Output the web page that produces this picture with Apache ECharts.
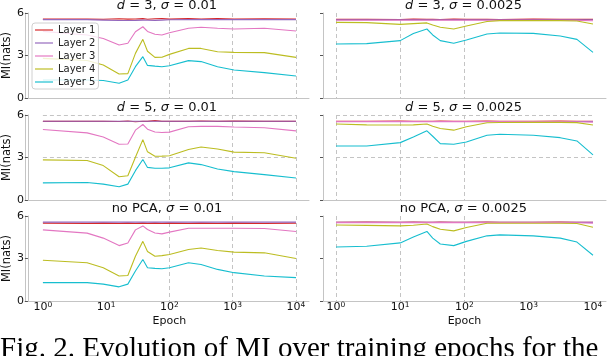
<!DOCTYPE html>
<html><head><meta charset="utf-8">
<script src="https://cdn.jsdelivr.net/npm/echarts@6/dist/echarts.min.js"></script>
<style>html,body{margin:0;padding:0;background:#fff;overflow:hidden}#c{width:608px;height:356px}</style>
</head><body><div id="c"></div>
<script>
// ---------------- data ----------------
const layerNames = ['Layer 1', 'Layer 2', 'Layer 3', 'Layer 4', 'Layer 5'];
const layerColors = ['#d62728', '#9467bd', '#e377c2', '#bcbd22', '#17becf'];
const panelTitles = [
  '{i|d} = 3, {i|σ} = 0.01', '{i|d} = 3, {i|σ} = 0.0025',
  '{i|d} = 5, {i|σ} = 0.01', '{i|d} = 5, {i|σ} = 0.0025',
  'no PCA, {i|σ} = 0.01', 'no PCA, {i|σ} = 0.0025'
];
const yTicks = [0, 3, 6];
const xTickValues = [1, 10, 100, 1000, 10000];
const captionText = 'Fig. 2. Evolution of MI over training epochs for the';

// epochs (x)
const epochsLeft = [1, 5, 9, 16, 22, 29, 38, 45, 59, 76, 100, 200, 316, 575, 1050, 3160, 10000];
const epochsRight = [1, 3, 10, 16, 26, 32, 42, 68, 107, 224, 355, 1175, 3090, 5623, 10000];

// d = 3, sigma = 0.01
const A1 = [5.57, 5.58, 5.56, 5.59, 5.57, 5.58, 5.6, 5.56, 5.59, 5.6, 5.57, 5.6, 5.58, 5.6, 5.57, 5.59, 5.58];
const A2 = [5.53, 5.53, 5.5, 5.47, 5.47, 5.48, 5.5, 5.49, 5.48, 5.5, 5.52, 5.53, 5.53, 5.53, 5.53, 5.53, 5.53];
const A3 = [4.7, 4.45, 4.2, 3.74, 3.86, 4.68, 5.03, 4.7, 4.5, 4.45, 4.6, 4.92, 4.99, 4.92, 4.87, 4.92, 4.73];
const A4 = [2.8, 2.65, 2.33, 1.69, 1.72, 3.15, 4.14, 3.3, 2.87, 2.88, 3.08, 3.5, 3.5, 3.27, 3.22, 3.2, 2.87];
const A5 = [1.27, 1.27, 1.23, 1.04, 1.27, 2.21, 2.92, 2.3, 2.25, 2.21, 2.28, 2.64, 2.57, 2.21, 1.98, 1.79, 1.55];
// d = 3, sigma = 0.0025
const B1 = [5.55, 5.56, 5.54, 5.57, 5.55, 5.56, 5.54, 5.57, 5.55, 5.56, 5.54, 5.57, 5.55, 5.56, 5.55];
const B2 = [5.52, 5.52, 5.52, 5.52, 5.52, 5.52, 5.52, 5.52, 5.52, 5.52, 5.52, 5.52, 5.52, 5.52, 5.52];
const B3 = [5.49, 5.49, 5.49, 5.49, 5.49, 5.49, 5.49, 5.49, 5.49, 5.49, 5.49, 5.49, 5.49, 5.48, 5.45];
const B4 = [5.34, 5.32, 5.2, 5.25, 5.3, 5.15, 4.99, 4.87, 5.08, 5.4, 5.46, 5.46, 5.46, 5.44, 5.22];
const B5 = [3.81, 3.84, 4.05, 4.56, 4.87, 4.45, 4.05, 3.86, 4.1, 4.52, 4.59, 4.56, 4.38, 4.14, 3.22];
// d = 5, sigma = 0.01
const C1 = [5.55, 5.56, 5.55, 5.54, 5.58, 5.52, 5.56, 5.55, 5.6, 5.55, 5.56, 5.55, 5.58, 5.55, 5.57, 5.55, 5.55];
const C2 = [5.56, 5.56, 5.56, 5.56, 5.56, 5.56, 5.56, 5.56, 5.56, 5.56, 5.56, 5.56, 5.56, 5.56, 5.56, 5.56, 5.56];
const C3 = [4.98, 4.74, 4.45, 3.93, 3.95, 4.93, 5.33, 5.0, 4.8, 4.76, 4.79, 5.17, 5.2, 5.2, 5.15, 5.1, 4.88];
const C4 = [2.83, 2.79, 2.43, 1.64, 1.71, 3.02, 4.26, 3.4, 3.09, 3.1, 3.12, 3.57, 3.74, 3.6, 3.38, 3.33, 2.95];
const C5 = [1.21, 1.24, 1.12, 0.93, 1.12, 2.07, 2.86, 2.3, 2.24, 2.24, 2.27, 2.62, 2.5, 2.19, 2.0, 1.79, 1.55];
// d = 5, sigma = 0.0025
const D1 = [5.56, 5.55, 5.57, 5.55, 5.56, 5.55, 5.57, 5.56, 5.55, 5.57, 5.56, 5.55, 5.57, 5.56, 5.55];
const D2 = [5.54, 5.54, 5.54, 5.54, 5.54, 5.54, 5.54, 5.54, 5.54, 5.54, 5.54, 5.54, 5.54, 5.54, 5.54];
const D3 = [5.53, 5.53, 5.53, 5.53, 5.53, 5.53, 5.53, 5.53, 5.53, 5.53, 5.53, 5.53, 5.53, 5.52, 5.5];
const D4 = [5.36, 5.3, 5.29, 5.3, 5.36, 5.2, 5.05, 4.93, 5.17, 5.45, 5.47, 5.48, 5.48, 5.46, 5.29];
const D5 = [3.81, 3.81, 4.05, 4.45, 4.88, 4.5, 3.98, 3.93, 4.1, 4.57, 4.64, 4.57, 4.4, 4.17, 3.19];
// no PCA, sigma = 0.01
const E1 = [5.5, 5.47, 5.5, 5.47, 5.5, 5.47, 5.5, 5.47, 5.5, 5.47, 5.5, 5.47, 5.5, 5.47, 5.5, 5.47, 5.5];
const E2 = [5.57, 5.57, 5.57, 5.57, 5.57, 5.57, 5.57, 5.57, 5.57, 5.57, 5.57, 5.57, 5.57, 5.57, 5.57, 5.57, 5.57];
const E3 = [5.02, 4.79, 4.44, 3.91, 4.09, 5.02, 5.3, 5.05, 4.8, 4.74, 4.86, 5.14, 5.14, 5.14, 5.14, 5.12, 4.91];
const E4 = [2.88, 2.7, 2.35, 1.77, 1.8, 3.16, 4.21, 3.5, 3.16, 3.2, 3.28, 3.63, 3.74, 3.56, 3.45, 3.4, 3.0];
const E5 = [1.3, 1.3, 1.19, 1.0, 1.19, 2.12, 2.93, 2.35, 2.3, 2.28, 2.35, 2.7, 2.58, 2.23, 2.0, 1.77, 1.65];
// no PCA, sigma = 0.0025
const F1 = [5.56, 5.57, 5.55, 5.57, 5.56, 5.55, 5.57, 5.56, 5.55, 5.57, 5.56, 5.55, 5.57, 5.56, 5.56];
const F2 = [5.55, 5.55, 5.55, 5.55, 5.55, 5.55, 5.55, 5.55, 5.55, 5.55, 5.55, 5.55, 5.55, 5.55, 5.55];
const F3 = [5.53, 5.53, 5.53, 5.53, 5.53, 5.53, 5.53, 5.53, 5.53, 5.53, 5.53, 5.53, 5.53, 5.52, 5.5];
const F4 = [5.37, 5.34, 5.3, 5.35, 5.44, 5.25, 5.07, 4.95, 5.19, 5.49, 5.49, 5.49, 5.49, 5.47, 5.21];
const F5 = [3.81, 3.86, 4.1, 4.51, 4.91, 4.44, 4.02, 3.91, 4.21, 4.6, 4.67, 4.6, 4.44, 4.16, 3.23];

// ---------------- layout ----------------
const panels = [
  { epochs: epochsLeft, layers: [A1, A2, A3, A4, A5] },
  { epochs: epochsRight, layers: [B1, B2, B3, B4, B5] },
  { epochs: epochsLeft, layers: [C1, C2, C3, C4, C5] },
  { epochs: epochsRight, layers: [D1, D2, D3, D4, D5] },
  { epochs: epochsLeft, layers: [E1, E2, E3, E4, E5] },
  { epochs: epochsRight, layers: [F1, F2, F3, F4, F5] }
];
const rowTops = [13, 115, 216];
const rowH = 85;
const cols = [
  { frameL: 25, frameW: 284, dataL: 40, dataW: 256, gridColors: ['rgba(0,0,0,0)', 'rgba(0,0,0,0)', '#c4c4c4', '#c4c4c4', '#c4c4c4'] },
  { frameL: 323, frameW: 283, dataL: 336, dataW: 257, gridColors: ['#c4c4c4', '#c4c4c4', '#c4c4c4', 'rgba(0,0,0,0)', 'rgba(0,0,0,0)'] }
];
const FONT = 'DejaVu Sans';

const grids = [], xAxes = [], yAxes = [], series = [], titles = [];
// data grids 0..5
panels.forEach((p, i) => {
  const r = Math.floor(i / 2), c = i % 2, col = cols[c];
  grids.push({ left: col.dataL, width: col.dataW, top: rowTops[r], height: rowH });
  const bottomRow = r === 2;
  xAxes.push({
    type: 'log', logBase: 10, min: 1, max: 10000, gridIndex: i,
    axisLine: { show: false }, axisTick: { show: false },
    splitLine: { show: true, lineStyle: { color: col.gridColors, type: [4, 3], width: 1 } },
    axisLabel: {
      show: bottomRow, margin: 0, color: '#111', fontFamily: FONT, fontSize: 11, lineHeight: 12,
      formatter: v => '10{s|' + Math.round(Math.log10(v)) + '}',
      rich: { s: { fontSize: 7.5, fontFamily: FONT, color: '#111', verticalAlign: 'top', lineHeight: 7, padding: [0, 0, 6, 0] } }
    },
    name: bottomRow ? 'Epoch' : '', nameLocation: 'middle', nameGap: 13,
    nameTextStyle: { fontFamily: FONT, fontSize: 11, color: '#111' }
  });
  yAxes.push({
    type: 'value', min: yTicks[0], max: yTicks[yTicks.length - 1], interval: 3, gridIndex: i,
    offset: col.dataL - col.frameL,
    axisLine: { show: true, lineStyle: { color: '#c4c4c4' } },
    axisTick: { show: true, length: 3, lineStyle: { color: '#555' } },
    splitLine: { show: r === 1, lineStyle: { color: '#c4c4c4', type: [4, 3] } },
    axisLabel: { show: c === 0, margin: 4, color: '#111', fontFamily: FONT, fontSize: 11 },
    name: c === 0 ? 'MI(nats)' : '', nameLocation: 'middle', nameGap: 5,
    nameTextStyle: { fontFamily: FONT, fontSize: 11.5, color: '#111' }
  });
  titles.push({
    text: panelTitles[i], left: col.dataL + col.dataW / 2 - 1, textAlign: 'center', top: rowTops[r] - 14,
    textStyle: { fontFamily: FONT, fontSize: 13, fontWeight: 'normal', color: '#111', lineHeight: 14,
      rich: { i: { fontFamily: FONT, fontSize: 13, fontStyle: 'italic', color: '#111' } } },
    padding: 0
  });
  p.layers.forEach((vals, k) => {
    series.push({
      type: 'line', name: layerNames[k], xAxisIndex: i, yAxisIndex: i,
      data: p.epochs.map((e, j) => [e, vals[j]]),
      symbol: 'none', showSymbol: false,
      lineStyle: { width: 1.1, color: layerColors[k] },
      itemStyle: { color: layerColors[k] },
      z: 2 + k * 0.01
    });
  });
});
// frame grids 6..11 (top line, right line)
panels.forEach((p, i) => {
  const r = Math.floor(i / 2), c = i % 2, col = cols[c];
  grids.push({ left: col.frameL, width: col.frameW, top: rowTops[r], height: rowH });
  xAxes.push({
    type: 'value', min: 0, max: 1, gridIndex: 6 + i, position: 'top',
    axisLine: { show: true, lineStyle: { color: '#c4c4c4' } },
    axisTick: { show: false }, axisLabel: { show: false }, splitLine: { show: false }
  });
  yAxes.push({
    type: 'value', min: 0, max: 1, gridIndex: 6 + i, position: 'right',
    axisLine: { show: c === 0, lineStyle: { color: '#c4c4c4' } },
    axisTick: { show: false }, axisLabel: { show: false }, splitLine: { show: false }
  });
});
titles.push({
  text: captionText, left: 0, top: 335, padding: 0,
  textStyle: { fontFamily: 'Liberation Serif', fontSize: 29, lineHeight: 29, fontWeight: 'normal', color: '#000' }
});

const chart = echarts.init(document.getElementById('c'), null, { renderer: 'canvas' });
chart.setOption({
  animation: false,
  backgroundColor: '#fff',
  textStyle: { fontFamily: FONT },
  title: titles,
  grid: grids,
  xAxis: xAxes,
  yAxis: yAxes,
  legend: {
    data: layerNames, orient: 'vertical', left: 32, top: 23,
    icon: 'path://M0,0H20V1.3H0Z',
    itemWidth: 18, itemHeight: 10, itemGap: 3,
    padding: [2, 3, 2, 3],
    backgroundColor: 'rgba(255,255,255,0.8)', borderColor: '#d0d0d0', borderWidth: 1, borderRadius: 3,
    textStyle: { fontFamily: FONT, fontSize: 10, color: '#222' }
  },
  series: series
});
</script>
</body></html>
